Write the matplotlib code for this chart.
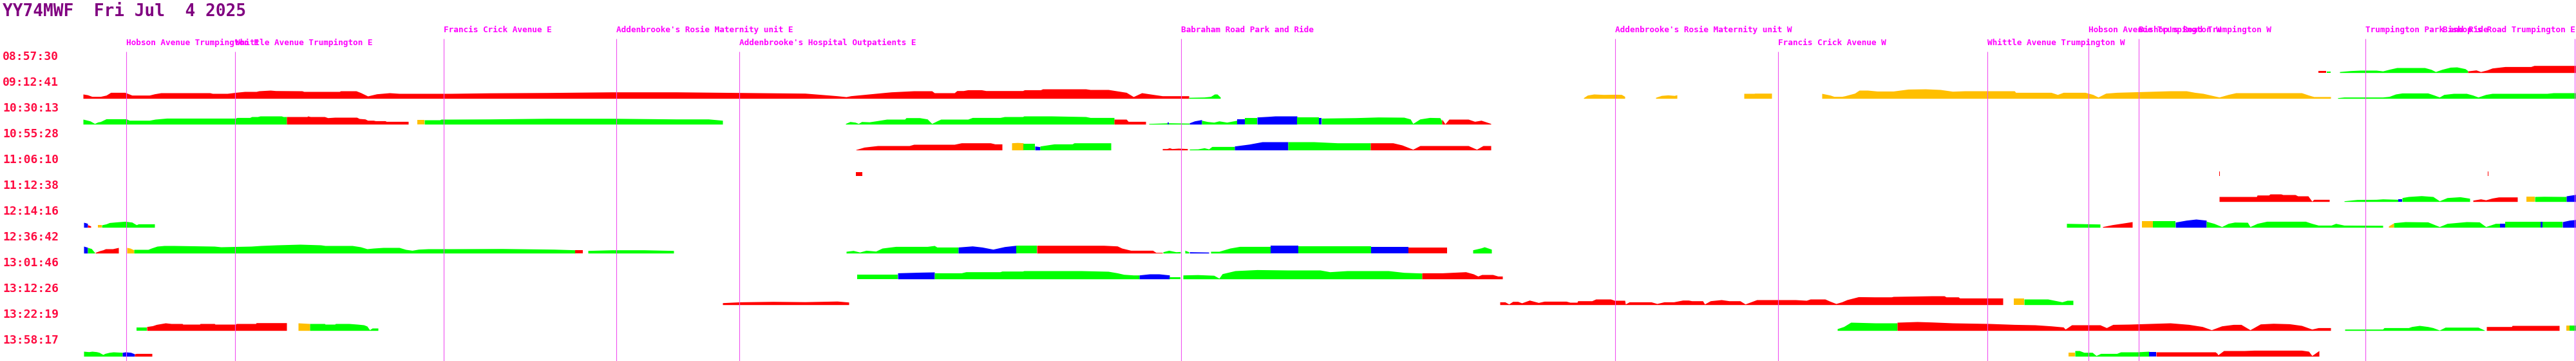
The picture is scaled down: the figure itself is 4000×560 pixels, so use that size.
import matplotlib
matplotlib.use("Agg")
import matplotlib.pyplot as plt

# ---- data ----
title = "YY74MWF  Fri Jul  4 2025"

row_labels = ["08:57:30", "09:12:41", "10:30:13", "10:55:28", "11:06:10", "11:12:38",
              "12:14:16", "12:36:42", "13:01:46", "13:12:26", "13:22:19", "13:58:17"]

stop_names = ["Hobson Avenue Trumpington E", "Whittle Avenue Trumpington E",
              "Francis Crick Avenue E", "Addenbrooke's Rosie Maternity unit E",
              "Addenbrooke's Hospital Outpatients E", "Babraham Road Park and Ride",
              "Addenbrooke's Rosie Maternity unit W", "Francis Crick Avenue W",
              "Whittle Avenue Trumpington W", "Hobson Avenue Trumpington W",
              "Bishop's Road Trumpington W", "Trumpington Park and Ride",
              "Bishop's Road Trumpington E"]
stop_pos = [196, 365, 689, 957, 1148, 1834, 2508, 2761, 3086, 3243, 3321, 3673, 3998]
stop_tier = [1, 1, 0, 0, 1, 0, 0, 1, 1, 0, 0, 0, 0]

# each journey row: (colour, route positions, bar height)
row_00 = [
    ("r", [3600, 3612], [2.7, 2.7]),
    ("g", [3613, 3619], [1.7, 1.7]),
    ("g", [3633, 3650, 3665, 3690, 3700, 3712, 3722, 3765, 3775, 3782, 3792, 3805, 3815, 3828, 3832],
          [1.5, 3.0, 3.7, 3.7, 2.5, 5.5, 7.7, 7.7, 5, 1.5, 5, 8.3, 8.7, 6, 3]),
    ("r", [3832, 3845, 3852, 3862, 3870, 3890, 3930, 3935, 4000],
          [2.5, 4, 1.5, 4, 7, 9.3, 9.3, 11, 11]),
]
row_01 = [
    ("r", [129, 136, 143, 156, 165, 172, 194, 205, 232, 240, 250, 326, 330, 353, 366, 380, 398, 402,
           420, 428, 469, 472, 527, 529, 553, 560, 571, 585, 605, 620, 700, 760, 850, 950, 1050,
           1150, 1250, 1300, 1314, 1321, 1342, 1370, 1384, 1419, 1447, 1451, 1482, 1486, 1496, 1503,
           1524, 1531, 1588, 1591, 1616, 1619, 1686, 1693, 1721, 1749, 1760, 1773, 1791, 1805, 1846],
          [6.7, 5.5, 3, 3, 5, 9.3, 9.3, 5, 5, 7, 8.7, 8.7, 7.7, 7.7, 9.3, 10.7, 10.7, 11.7,
           12.7, 12, 11.7, 10.7, 10.7, 11.7, 11.7, 9, 3.7, 7, 8.7, 7.7, 7.7, 8.5, 9, 10, 10,
           9, 8, 4, 2.5, 4, 6, 8.7, 10, 11.7, 11.7, 8.7, 8.7, 12, 12, 13.3,
           13.3, 12, 12, 13.3, 13.3, 14.7, 14.7, 13.7, 13.7, 9.3, 2.7, 8.7, 6, 4, 4]),
    ("g", [1846, 1870, 1880, 1886, 1890, 1895], [1.5, 2, 3, 6.7, 6.7, 2]),
    ("y", [2459, 2465, 2475, 2490, 2510, 2518, 2523], [1, 5, 6.7, 6, 6.3, 6, 3]),
    ("y", [2571, 2580, 2590, 2600, 2604], [1.5, 4.5, 5.3, 4.5, 5.5]),
    ("y", [2708, 2724, 2725, 2751], [7.7, 7.7, 8, 8]),
    ("y", [2829, 2842, 2848, 2860, 2865, 2880, 2887, 2900, 2915, 2940, 2963, 2990, 3013, 3032, 3051,
           3128, 3130, 3185, 3195, 3204, 3238, 3250, 3258, 3270, 3287, 3370, 3395, 3408, 3421, 3446,
           3460, 3472, 3574, 3585, 3593, 3619],
          [7.7, 5, 3, 3, 4, 8, 12.7, 12.7, 11.3, 11.3, 14.3, 14.7, 13.7, 11, 11.7,
           11.7, 9.3, 9.3, 6, 9.3, 9.3, 6, 2, 8, 9.3, 11.7, 11.7, 9.3, 7.7, 2,
           6, 8.7, 8.7, 5, 2.7, 2.7]),
    ("g", [3630, 3640, 3700, 3710, 3720, 3730, 3770, 3780, 3788, 3795, 3810, 3830, 3840, 3848, 3860,
           3870, 3955, 3965, 4000],
          [1, 2, 2, 3, 6.7, 8.3, 8.3, 5, 2, 6, 7.7, 7.7, 5, 2, 6, 7.7, 7.7, 8.7, 8.7]),
]
row_02 = [
    ("g", [129, 140, 147, 152, 156, 165, 196, 201, 232, 241, 259, 290, 312, 366, 368, 388, 391, 400,
           404, 437, 440, 445],
          [7.7, 5, 1, 3.3, 4, 8.3, 8.3, 6, 6, 7.7, 9.3, 9.3, 9.3, 9.3, 10.3, 10.3, 11.7, 11.7,
           12.7, 12.7, 11.7, 11.7]),
    ("r", [445, 477, 478, 482, 504, 509, 520, 554, 558, 567, 571, 580, 583, 598, 600, 634],
          [11.7, 11.7, 12.7, 11.7, 11.7, 10, 10.7, 10.7, 8.7, 8, 6, 6, 5.3, 5.3, 4.3, 4.3]),
    ("y", [648, 659], [6.7, 6.7]),
    ("g", [659, 683, 685, 700, 760, 850, 950, 1050, 1100, 1122],
          [6.7, 6.7, 7.7, 7.7, 8, 9, 9, 8, 8, 6]),
    ("g", [1313, 1320, 1328, 1333, 1338, 1350, 1360, 1377, 1405, 1407, 1428, 1440, 1447, 1455, 1461,
           1503, 1510, 1553, 1560, 1588, 1590, 1633, 1686, 1693, 1721, 1730],
          [1, 4, 3, 1, 4, 3.5, 5, 7.7, 7.7, 10, 10, 8, 1, 5, 7.7,
           7.7, 10.3, 10.3, 11.7, 11.7, 12.7, 12.7, 11.7, 10.3, 10.3, 10.3]),
    ("r", [1730, 1749, 1752, 1779], [7.7, 7.7, 4.3, 4.3]),
    ("g", [1784, 1800, 1815, 1847], [1, 1.5, 2, 1.5]),
    ("b", [1813, 1815], [3, 3]),
    ("b", [1847, 1855, 1866], [2, 5, 7]),
    ("g", [1866, 1875, 1885, 1893, 1905, 1921], [6, 4, 3, 5, 3, 6]),
    ("b", [1921, 1933], [7.7, 7.7]),
    ("g", [1933, 1952], [9.3, 9.3]),
    ("b", [1952, 1970, 1980, 2014], [11, 12, 12.7, 12.7]),
    ("g", [2014, 2048], [11, 11]),
    ("b", [2048, 2052], [10, 10]),
    ("g", [2052, 2105, 2140, 2180, 2190, 2194, 2205, 2220, 2236, 2239],
          [9.3, 10, 11, 10.7, 8, 1, 8, 10.3, 10, 5]),
    ("r", [2239, 2244, 2250, 2280, 2290, 2300, 2309, 2315], [7.7, 0.5, 7.7, 7.7, 4.3, 6, 3, 1]),
]
row_03 = [
    ("r", [1329, 1342, 1363, 1412, 1419, 1482, 1493, 1538, 1545, 1556],
          [0.5, 4.3, 6.7, 6.7, 8.7, 8.7, 11, 11, 9.3, 9.3]),
    ("y", [1571, 1580, 1589], [11, 11.5, 11]),
    ("g", [1589, 1607], [9.3, 9.3]),
    ("b", [1607, 1615], [6, 5]),
    ("g", [1615, 1637, 1665, 1668, 1725], [6, 9.3, 9.3, 11, 11]),
    ("r", [1805, 1812, 1816, 1820, 1830, 1844], [2, 2, 3.3, 2, 2.7, 2]),
    ("g", [1847, 1860, 1870, 1877, 1882, 1895, 1917], [1.3, 1.5, 3.3, 1.5, 5.3, 5.3, 5.3]),
    ("b", [1917, 1940, 1960, 2000], [6, 9, 12.7, 12.7]),
    ("g", [2000, 2040, 2077, 2128], [12.7, 12.7, 11, 11]),
    ("r", [2128, 2163, 2177, 2194, 2205, 2280, 2293, 2303, 2315],
          [11, 11, 7.7, 1, 6.7, 6.7, 1, 6.7, 6.7]),
]
row_04 = [
    ("r", [1329, 1339], [6, 6]),
    ("r", [3445.5, 3447], [7, 7]),
    ("r", [3862.5, 3864], [7, 7]),
]
row_05 = [
    ("r", [3446, 3504, 3505, 3523, 3525, 3542, 3545, 3564, 3568, 3584, 3590, 3593, 3617],
          [7.7, 7.7, 10, 10, 11.7, 11.7, 10.7, 10.7, 8.7, 8.7, 0.5, 3.3, 3.3]),
    ("g", [3640, 3660, 3690, 3700, 3724], [1, 3, 3.3, 4, 3.3]),
    ("b", [3724, 3730], [4, 4]),
    ("g", [3730, 3740, 3760, 3778, 3788, 3800, 3820, 3835], [6, 7.7, 9, 7.7, 1, 6, 7.3, 5]),
    ("r", [3840, 3852, 3860, 3870, 3880, 3909], [2, 4, 2.5, 5.3, 7, 7]),
    ("y", [3923, 3936], [7.7, 7.7]),
    ("g", [3936, 3950, 3985], [7.7, 8, 7.7]),
    ("b", [3985, 4000], [8.7, 11]),
]
row_06 = [
    ("b", [130, 133, 136], [7.7, 7, 6]),
    ("r", [136, 141], [4, 2]),
    ("y", [152, 158], [3.7, 3.7]),
    ("g", [158, 165, 170, 181, 194, 205, 210, 212, 215, 232, 240],
          [3.7, 5.3, 7.3, 8.3, 9.3, 8, 5, 4, 5.3, 5.3, 5.3]),
    ("g", [3209, 3261], [6, 5]),
    ("r", [3265, 3280, 3300, 3311], [1, 4, 7, 8.7]),
    ("y", [3326, 3343], [10, 10]),
    ("g", [3343, 3378], [9.3, 9.3]),
    ("b", [3378, 3395, 3410, 3426], [8, 11, 12.7, 11]),
    ("g", [3426, 3438, 3450, 3460, 3470, 3490, 3494, 3505, 3520, 3580, 3590, 3600, 3620, 3627,
           3640, 3700],
          [9.3, 6, 1, 6, 8, 7.7, 1, 6, 9.3, 9.3, 6, 3.3, 3.3, 6, 3.3, 3]),
    ("y", [3709, 3717], [2, 6.7]),
    ("g", [3717, 3735, 3770, 3788, 3800, 3830, 3850, 3860, 3875, 3882],
          [7, 8.7, 8.3, 1, 6, 8.7, 8.3, 1, 6, 6]),
    ("b", [3882, 3890], [6, 6]),
    ("g", [3890, 3945], [8.7, 8.7]),
    ("b", [3945, 3948], [8.7, 8.7]),
    ("g", [3948, 3979], [8.7, 8.7]),
    ("b", [3979, 3990, 4000], [8.7, 11, 12]),
]
row_07 = [
    ("b", [130, 136], [10.7, 9]),
    ("g", [136, 142, 147], [8.7, 7, 1]),
    ("r", [148, 155, 160, 164, 175, 184], [1, 3.7, 5, 6.7, 6.7, 8.7]),
    ("y", [197, 202, 208], [8.7, 7.7, 5]),
    ("g", [208, 230, 235, 244, 255, 270, 333, 343, 390, 405, 430, 466, 498, 505, 547, 560, 570,
           580, 595, 620, 630, 640, 650, 665, 700, 780, 860, 893],
          [5.7, 5.7, 7.7, 10.7, 11.7, 11.7, 10.7, 9.7, 10.7, 11.7, 12.7, 13.7, 12.7, 11.7, 11.7,
           9.7, 6.7, 7.7, 8.7, 8.7, 5.7, 4.3, 6, 6.7, 6.7, 7, 6, 5]),
    ("r", [893, 905], [5, 5]),
    ("g", [913, 950, 1000, 1046], [4, 5, 5, 4]),
    ("g", [1314, 1325, 1335, 1345, 1360, 1370, 1391, 1440, 1451, 1455, 1488],
          [2.7, 4, 1.5, 4.3, 3, 7.7, 10.3, 10.3, 11.7, 9.3, 9.3]),
    ("b", [1488, 1510, 1525, 1542, 1560, 1578], [9.3, 11, 9.3, 6, 10, 12]),
    ("g", [1578, 1610], [12, 12]),
    ("r", [1610, 1714, 1735, 1742, 1756, 1790, 1795, 1805], [12, 12, 11, 7.7, 4.3, 4.3, 1, 1]),
    ("g", [1806, 1815, 1826, 1833], [2, 4.3, 2, 2.3]),
    ("g", [1840, 1846], [4.3, 2]),
    ("b", [1847, 1877], [2, 1.5]),
    ("g", [1880, 1893, 1910, 1925, 1973], [2.7, 2.7, 7.7, 10.3, 10.3]),
    ("b", [1973, 2016], [12, 12]),
    ("g", [2016, 2129], [10.3, 10.3]),
    ("b", [2129, 2187], [9.3, 9.3]),
    ("r", [2187, 2247], [8.7, 8.7]),
    ("g", [2287, 2300, 2305, 2316], [5, 8, 9.7, 6]),
]
row_08 = [
    ("g", [1331, 1394], [6.7, 6.7]),
    ("b", [1394, 1430, 1451], [9.3, 10.3, 10.7]),
    ("g", [1451, 1493, 1500, 1553, 1556, 1588, 1590, 1679, 1721, 1735, 1745, 1760, 1769],
          [9.3, 9.3, 11, 11, 12, 12, 12.7, 12.7, 11.7, 9.3, 7, 6, 6]),
    ("b", [1769, 1785, 1800, 1816], [6, 7.7, 7.7, 6]),
    ("g", [1816, 1833], [2.7, 2.7]),
    ("g", [1837, 1860, 1885, 1893, 1898, 1918, 1952, 2000, 2050, 2065, 2092, 2156, 2180, 2208],
          [6, 6.5, 5.5, 1, 8, 12.7, 14.3, 13.7, 13.7, 11, 12.7, 12.7, 10, 9]),
    ("r", [2208, 2240, 2276, 2288, 2295, 2301, 2318, 2326, 2333],
          [9.3, 9.3, 11, 7.7, 4.3, 6.7, 6.7, 4.3, 4.3]),
]
row_09 = [
    ("r", [1122, 1150, 1200, 1250, 1300, 1318], [3, 4.3, 5, 4.5, 5.5, 4]),
    ("r", [2329, 2337, 2343, 2349, 2357, 2363, 2375, 2389, 2398, 2432, 2438, 2449, 2450, 2472, 2478,
           2501, 2507, 2523, 2524, 2530, 2564, 2573, 2584, 2599, 2613, 2622, 2627, 2644, 2647, 2656,
           2673, 2685, 2702, 2710, 2728, 2788, 2805, 2811, 2834, 2840, 2851, 2860, 2868, 2886, 2911,
           2937, 2940, 3000, 3019, 3022, 3041, 3043, 3110],
          [4.3, 4.3, 1, 5, 5, 2.7, 7, 3.3, 5.3, 5.3, 3.7, 3.7, 6, 6, 8.7,
           8.7, 6.7, 6.7, 1, 4.3, 4.3, 1.7, 4.3, 4.3, 7, 7, 6, 6, 1, 6,
           7.7, 6, 6, 1, 7.7, 7.7, 6.7, 8.7, 8.7, 6, 1.7, 4.3, 7.7, 12.3, 12,
           12, 12.7, 13.7, 13.7, 12, 12, 10.3, 10.3]),
    ("y", [3127, 3143], [9.3, 9.3]),
    ("g", [3143, 3180, 3190, 3202, 3210, 3219], [8.7, 8.7, 6.7, 4.3, 6.7, 6.7]),
]
row_10 = [
    ("g", [212, 228], [5, 5]),
    ("r", [228, 237, 243, 257, 266, 283, 284, 310, 311, 333, 334, 366, 367, 397, 398, 445],
          [6, 7.3, 9.3, 11.7, 10.7, 10.7, 9.7, 9.7, 10.7, 10.7, 9.7, 9.7, 10.7, 10.7, 12, 12]),
    ("y", [463, 481], [11.7, 10.7]),
    ("g", [481, 504, 505, 520, 521, 542, 555, 565, 570, 574, 578, 587],
          [10.7, 10.7, 9.7, 9.7, 10.7, 10.7, 9.7, 8.7, 6.7, 1, 3.7, 3.7]),
    ("g", [2853, 2863, 2874, 2912, 2946], [2.7, 6, 12.7, 11.7, 11.7]),
    ("r", [2946, 2977, 3000, 3032, 3089, 3128, 3160, 3185, 3204, 3207, 3217, 3261, 3271, 3281, 3306,
           3370, 3399, 3420, 3434, 3450, 3468, 3480, 3494, 3510, 3530, 3555, 3574, 3590, 3600, 3619],
          [12.7, 13.7, 13, 11.7, 10.7, 9.3, 8.7, 7, 5.3, 2, 8.7, 8.7, 4.3, 9.3, 9.7,
           11.7, 9.3, 6, 1, 7, 9.3, 9.3, 1, 10, 11, 10.3, 7.7, 2, 4.3, 4.3]),
    ("g", [3641, 3700, 3702, 3740, 3745, 3757, 3770, 3778, 3788, 3797, 3848, 3858],
          [2, 2, 4.3, 4.3, 6, 7.7, 6, 4.3, 0.5, 5, 5, 0.5]),
    ("r", [3861, 3900, 3901, 3974], [6, 6, 7.7, 7.7]),
    ("y", [3985, 3990], [7.7, 7.7]),
    ("g", [3990, 4000], [7.7, 7.7]),
]
row_11 = [
    ("g", [130, 138, 143, 150, 154, 157, 160, 163, 170, 176, 190],
          [7.7, 7, 7.7, 7, 6, 4.3, 2.7, 4.3, 6, 6.7, 6]),
    ("b", [190, 195, 203, 209], [6, 6.7, 6, 3.7]),
    ("r", [209, 212, 236], [3.7, 4.3, 4.3]),
    ("y", [3212, 3222], [5.3, 5.3]),
    ("g", [3222, 3229, 3236, 3249, 3255, 3262, 3287, 3293, 3319, 3337],
          [8.7, 8.7, 6, 6, 1, 4.3, 4.3, 6.7, 6.7, 7.7]),
    ("b", [3337, 3348], [6.7, 6.7]),
    ("r", [3348, 3440, 3443, 3444, 3453, 3485, 3500, 3574, 3585, 3590, 3601],
          [6.7, 6.7, 4.3, 2, 8.7, 8.7, 9.3, 9.3, 7.7, 1, 8.7]),
]

rows = [row_00, row_01, row_02, row_03, row_04, row_05,
        row_06, row_07, row_08, row_09, row_10, row_11]

colours = {"r": "#ff0000", "g": "#00ff00", "b": "#0000ff", "y": "#ffbf00"}

# ---- figure ----
W, H = 4000, 560
fig = plt.figure(figsize=(W / 100, H / 100), dpi=100)
fig.patch.set_facecolor("white")
ax = fig.add_axes([0, 0, 1, 1])
ax.set_xlim(0, W)
ax.set_ylim(H, 0)
ax.axis("off")

mono = "DejaVu Sans Mono"

fig.text(4 / W, 1 - 5 / H, title, family=mono, weight="bold", fontsize=18.8,
         color="#800080", ha="left", va="top")

row_gap = 40
first_base = 112.7
for i, lab in enumerate(row_labels):
    ax.text(4, first_base + i * row_gap - 25, lab, family=mono, weight="bold",
            fontsize=13, color="#ff0a40", ha="left", va="center")

# journey bars
for i, segs in enumerate(rows):
    base = first_base + i * row_gap
    for c, xs, hs in segs:
        tops = [base - h for h in hs]
        ax.fill_between(xs, base, tops, color=colours[c], linewidth=0, antialiased=False)

# stops: vertical marker lines drawn over the bars
for name, x, tier in zip(stop_names, stop_pos, stop_tier):
    text_y = 50 if tier == 0 else 70
    line_top = 60 if tier == 0 else 80
    ax.vlines(x, line_top, H, color="#f050f0", linewidth=0.8)
    if x > W - 150:
        ax.text(W - 1, text_y, name, family=mono, weight="bold", fontsize=9.2,
                color="#ff00ff", ha="right", va="baseline")
    else:
        ax.text(x, text_y, name, family=mono, weight="bold", fontsize=9.2,
                color="#ff00ff", ha="left", va="baseline")

fig.savefig("out.png", dpi=100, facecolor="white")
